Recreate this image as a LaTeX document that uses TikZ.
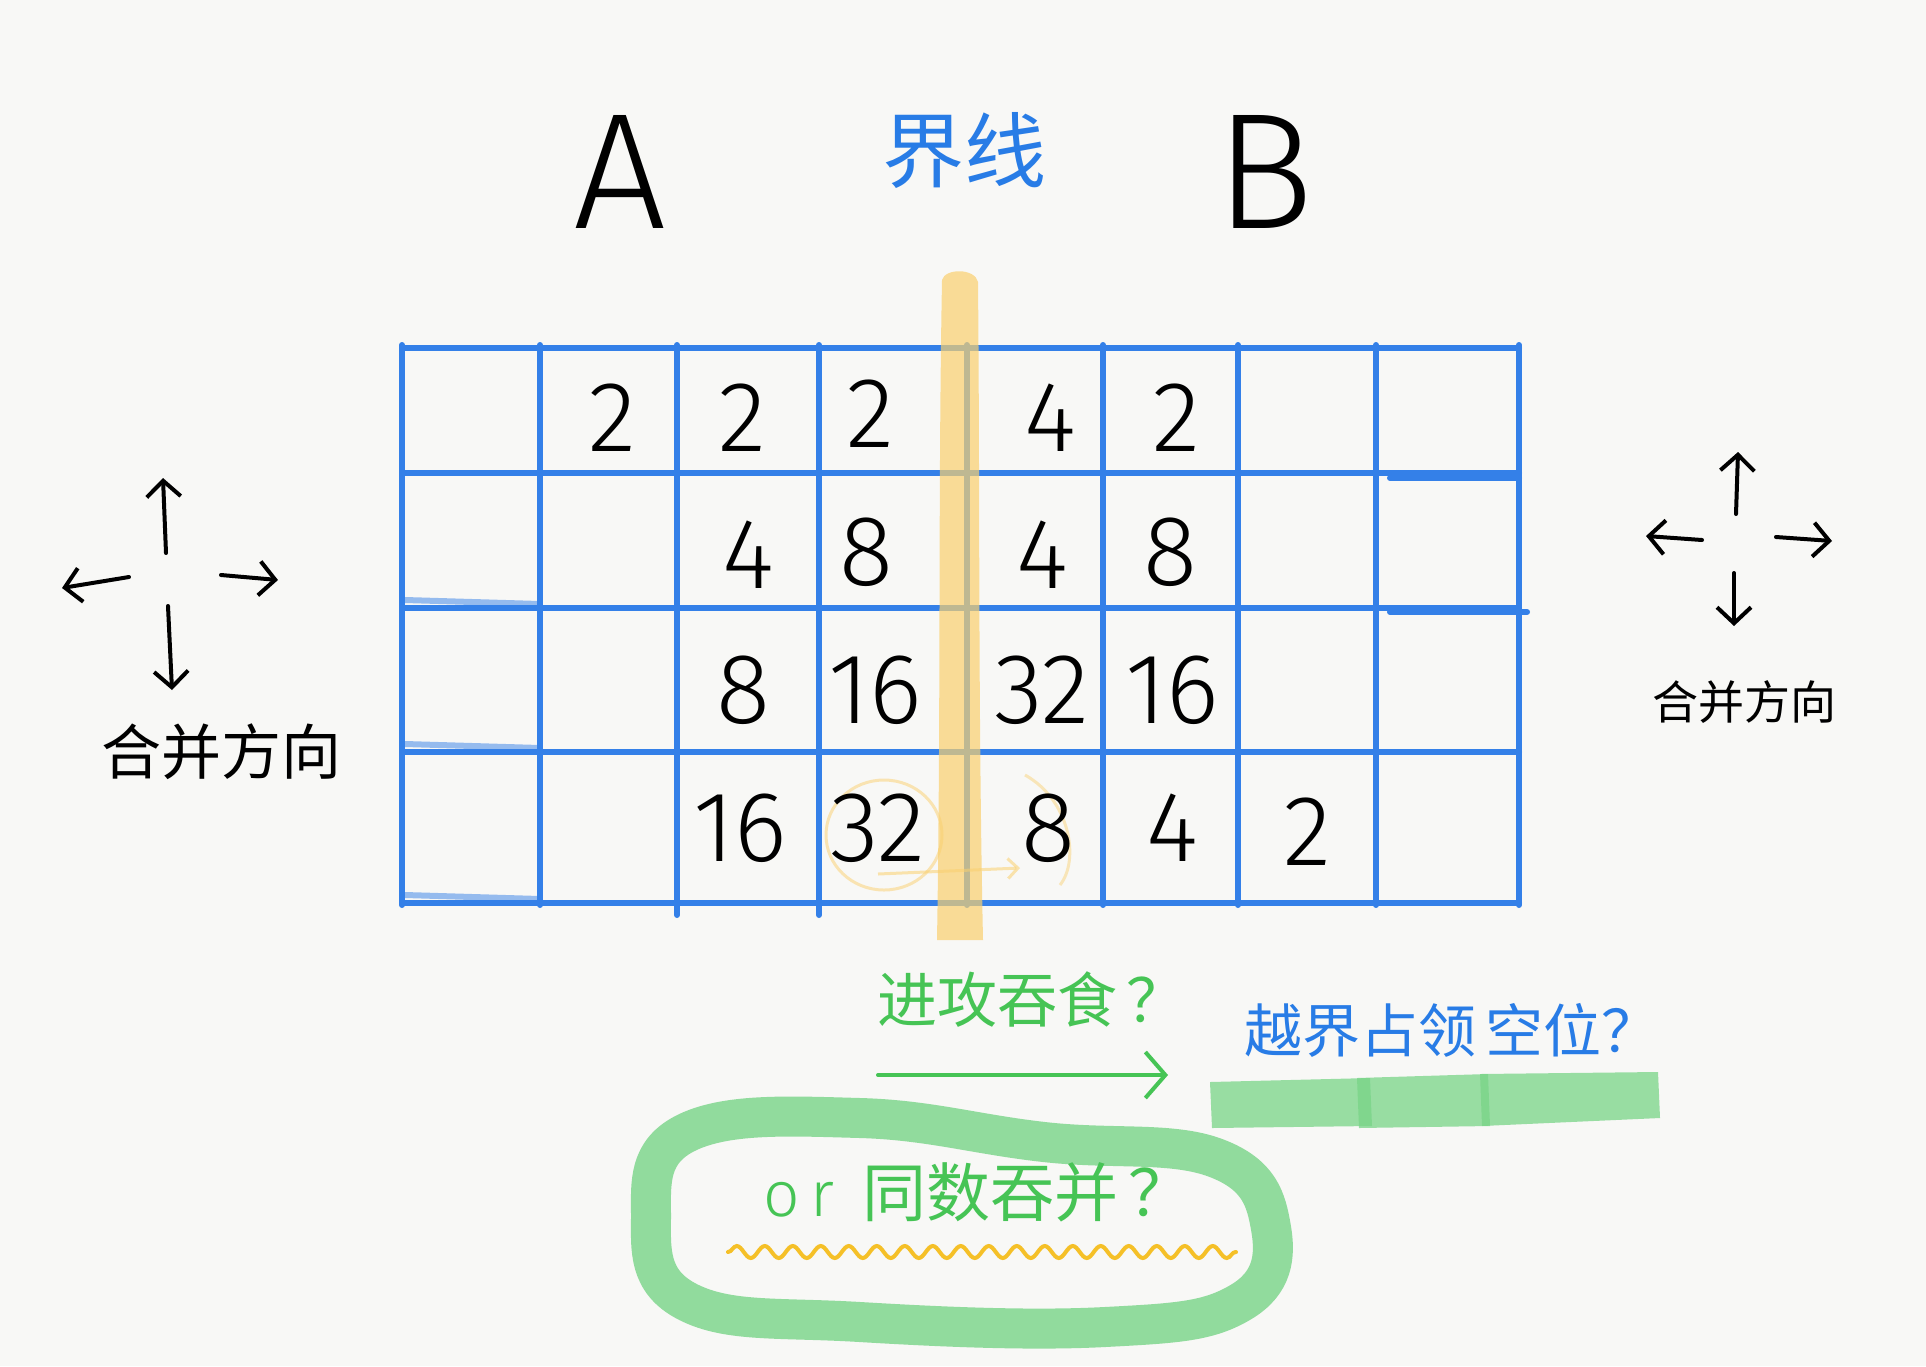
\documentclass[tikz,border=0pt]{standalone}
\usepackage{fontspec}
\usetikzlibrary{arrows.meta,decorations.pathmorphing}
\newfontfamily\cjk{Noto Sans CJK SC}
\newfontfamily\hand{Fira Sans Light}
\definecolor{bgc}{RGB}{248,248,246}
\definecolor{gridblue}{RGB}{52,128,232}
\definecolor{textblue}{RGB}{40,124,230}
\definecolor{hlyellow}{RGB}{250,208,110}
\definecolor{wavyyellow}{RGB}{245,192,40}
\definecolor{hlgreen}{RGB}{120,212,135}
\definecolor{textgreen}{RGB}{70,196,85}
\begin{document}
\begin{tikzpicture}[x=1pt,y=-1pt,
  gridline/.style={line width=6pt,draw=gridblue,line cap=round},
  num/.style={font=\hand\fontsize{100}{100}\selectfont,text=black,inner sep=0pt},
  letter/.style={font=\hand\fontsize{165}{165}\selectfont,text=black,inner sep=0pt},
  harrow/.style={line width=4pt,draw=black,line cap=round,-{Straight Barb[length=16pt,width=34pt]}},
  cjklabel/.style={font=\cjk\fontsize{#1}{#1}\selectfont,inner sep=0pt},
  hlstroke/.style={line width=40pt,draw=hlgreen,opacity=0.8,line cap=round,line join=round}]
\useasboundingbox (0,0) rectangle (1926,1366);
\fill[bgc] (0,0) rectangle (1926,1366);

% grid
\foreach \x in {402,540,677,819,967,1103,1238,1376,1519}
  \draw[gridline] (\x,345) -- (\x,905);
\draw[gridline] (677,905) -- (677,915);
\draw[gridline] (819,905) -- (819,915);
\foreach \y in {348,473,608,752,903}
  \draw[gridline] (402,\y) -- (1519,\y);
\draw[gridline,opacity=0.5] (405,600) -- (540,604);
\draw[gridline,opacity=0.5] (405,744) -- (540,748);
\draw[gridline,opacity=0.5] (405,895) -- (540,899);
\draw[gridline] (1390,478) -- (1519,478);
\draw[gridline] (1390,612) -- (1527,612);

% yellow boundary band
\fill[hlyellow,opacity=0.7] (942,280) .. controls (945,268) and (975,268) .. (978,282)
  .. controls (980,500) and (978,700) .. (983,940) -- (937,940)
  .. controls (941,700) and (938,500) .. (942,280) -- cycle;

% faint yellow marks
\draw[hlyellow,line width=3pt,opacity=0.5] (884,835) circle[x radius=58pt,y radius=55pt];
\draw[hlyellow,line width=3pt,opacity=0.55,-{Straight Barb[length=10pt,width=20pt]}] (878,874) -- (1020,868);
\draw[hlyellow,line width=3pt,opacity=0.45] (1025,775) .. controls (1070,800) and (1080,860) .. (1060,885);

% numbers
\node[num] (r0c1) at (612,418) {2};
\node[num] (r0c2) at (742,418) {2};
\node[num] (r0c3) at (870,414) {2};
\node[num] (r0c4) at (1050,418) {4};
\node[num] (r0c5) at (1176,418) {2};
\node[num] (r1c2) at (748,555) {4};
\node[num] (r1c3) at (866,552) {8};
\node[num] (r1c4) at (1042,555) {4};
\node[num] (r1c5) at (1170,552) {8};
\node[num] (r2c2) at (743,690) {8};
\node[num] (r2c3) at (875,690) {16};
\node[num] (r2c4) at (1042,690) {32};
\node[num] (r2c5) at (1172,690) {16};
\node[num] (r3c2) at (740,828) {16};
\node[num] (r3c3) at (878,828) {32};
\node[num] (r3c4) at (1048,828) {8};
\node[num] (r3c5) at (1172,828) {4};
\node[num] (r3c6) at (1307,832) {2};

% headers
\node[letter] (A) at (620,172) {A};
\node[letter] (B) at (1265,172) {B};
\node[cjklabel=82,text=textblue] (boundary) at (964,150) {界线};

% left direction arrows
\coordinate (lup0) at (166,553); \coordinate (lup1) at (163,478);
\coordinate (ldn0) at (168,606); \coordinate (ldn1) at (172,690);
\coordinate (llf0) at (129,577); \coordinate (llf1) at (62,588);
\coordinate (lrt0) at (221,575); \coordinate (lrt1) at (278,580);
\draw[harrow] (lup0) -- (lup1);
\draw[harrow] (ldn0) -- (ldn1);
\draw[harrow] (llf0) -- (llf1);
\draw[harrow] (lrt0) -- (lrt1);
\node[cjklabel=60,text=black] (ldir) at (221,752) {合并方向};

% right direction arrows
\coordinate (rup0) at (1736,514); \coordinate (rup1) at (1738,452);
\coordinate (rdn0) at (1734,573); \coordinate (rdn1) at (1734,626);
\coordinate (rlf0) at (1702,540); \coordinate (rlf1) at (1646,536);
\coordinate (rrt0) at (1776,537); \coordinate (rrt1) at (1832,541);
\draw[harrow] (rup0) -- (rup1);
\draw[harrow] (rdn0) -- (rdn1);
\draw[harrow] (rlf0) -- (rlf1);
\draw[harrow] (rrt0) -- (rrt1);
\node[cjklabel=46,text=black] (rdir) at (1744,702) {合并方向};

% green highlighter under the blue question
\fill[hlgreen,opacity=0.75] (1210,1082) -- (1370,1078) -- (1372,1126) -- (1212,1128) -- cycle;
\fill[hlgreen,opacity=0.75] (1357,1078) -- (1488,1074) -- (1490,1126) -- (1359,1128) -- cycle;
\fill[hlgreen,opacity=0.75] (1480,1074) -- (1658,1072) -- (1660,1118) -- (1482,1126) -- cycle;

% green loop
\draw[hlstroke] plot[smooth cycle,tension=0.7] coordinates {(651,1216) (688,1132) (860,1118) (1044,1142) (1216,1158) (1271,1228) (1241,1302) (1105,1327) (860,1322) (688,1302)};

% questions
\node[cjklabel=60,text=textgreen] (attack) at (1032,1000) {进攻吞食\,？};
\coordinate (ga0) at (878,1075);
\coordinate (ga1) at (1168,1075);
\draw[line width=4pt,draw=textgreen,line cap=round,-{Straight Barb[length=20pt,width=46pt]}] (ga0) -- (ga1);
\node[cjklabel=58,text=textblue] (cross) at (1452,1030) {越界占领\,空位？};
\node[cjklabel=64,text=textgreen] (merge) at (978,1192) {{\hand o\,r}\hspace{28pt}同数吞并\,？};
\coordinate (w0) at (728,1252);
\coordinate (w1) at (1236,1252);
\draw[wavyyellow,line width=4pt,line cap=round,decorate,decoration={snake,amplitude=6pt,segment length=28pt}] (w0) -- (w1);
\end{tikzpicture}
\end{document}
